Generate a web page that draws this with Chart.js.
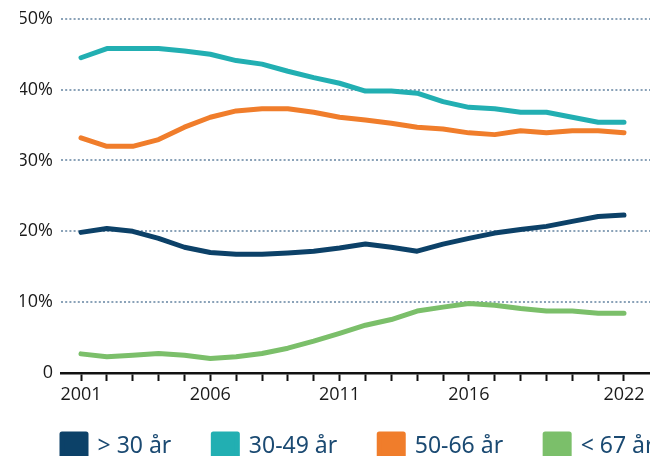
<!DOCTYPE html>
<html>
<head>
<meta charset="utf-8">
<script src="https://cdn.jsdelivr.net/npm/chart.js@4/dist/chart.umd.min.js"></script>
<style>
  html, body { margin: 0; padding: 0; background: #fff; overflow: hidden; }
  #wrap { width: 650px; height: 456px; overflow: hidden; }
</style>
</head>
<body>
<div id="wrap"><canvas id="chart" width="740" height="479"></canvas></div>
<script>
const years = [2001, 2002, 2003, 2004, 2005, 2006, 2007, 2008, 2009, 2010, 2011,
  2012, 2013, 2014, 2015, 2016, 2017, 2018, 2019, 2020, 2021, 2022];
const labeledYears = [2001, 2006, 2011, 2016, 2022];
const seriesNames = ["> 30 år", "30-49 år", "50-66 år", "< 67 år"];
const under30 = [19.85, 20.4, 20.0, 19.0, 17.75, 17.0, 16.75, 16.75, 16.95, 17.2, 17.65,
  18.2, 17.75, 17.2, 18.2, 19.0, 19.75, 20.25, 20.7, 21.4, 22.1, 22.3];
const age30to49 = [44.5, 45.8, 45.8, 45.8, 45.45, 45.0, 44.1, 43.6, 42.6, 41.7, 40.9,
  39.8, 39.8, 39.5, 38.3, 37.5, 37.3, 36.8, 36.8, 36.1, 35.4, 35.4];
const age50to66 = [33.2, 32.0, 32.0, 32.95, 34.7, 36.1, 37.0, 37.3, 37.3, 36.8, 36.1,
  35.7, 35.25, 34.7, 34.45, 33.9, 33.65, 34.2, 33.9, 34.2, 34.2, 33.9];
const over67 = [2.7, 2.3, 2.5, 2.75, 2.5, 2.05, 2.3, 2.75, 3.5, 4.5, 5.6,
  6.75, 7.55, 8.75, 9.3, 9.8, 9.55, 9.1, 8.75, 8.75, 8.45, 8.45];
const yTicks = [0, 10, 20, 30, 40, 50];
const colors = ["#0c4168", "#22afb2", "#f07d2b", "#7bbf6a"];

const seriesValues = [under30, age30to49, age50to66, over67];

const ds = seriesNames.map((name, i) => ({
  label: name,
  data: years.map((y, j) => ({ x: y, y: seriesValues[i][j] })),
  borderColor: colors[i],
  backgroundColor: colors[i],
  borderWidth: 5,
  borderCapStyle: "round",
  borderJoinStyle: "round",
  pointRadius: 0,
  tension: 0,
  fill: false,
}));

// px per year so 2001 sits at x=81 and 2022 at x=624
const pxPerYear = (624 - 81) / 21;
const xMin = 2001 - 20 / pxPerYear;
const xMax = xMin + (740 - 61) / pxPerYear;

const tickFont = { family: "Open Sans", size: 18 };

// pull the legend up a bit so it tucks under the year labels
const legendNudge = {
  id: "legendNudge",
  afterLayout(chart) {
    if (chart.legend) {
      chart.legend.top -= 11;
      chart.legend.bottom -= 11;
    }
  },
};

const ctx = document.getElementById("chart");
new Chart(ctx, {
  type: "line",
  data: { datasets: ds },
  plugins: [legendNudge],
  options: {
    responsive: false,
    animation: false,
    devicePixelRatio: 1,
    layout: { padding: { left: 20, top: 17, right: 0, bottom: 0 } },
    plugins: {
      tooltip: { enabled: false },
      legend: {
        position: "bottom",
        align: "start",
        labels: {
          boxWidth: 24,
          boxHeight: 24,
          padding: 42,
          color: "#1b4a72",
          font: { family: "Noto Sans", size: 23 },
        },
      },
    },
    scales: {
      x: {
        type: "linear",
        min: xMin,
        max: xMax,
        afterBuildTicks: (scale) => {
          scale.ticks = years.map((v) => ({ value: v }));
        },
        afterFit: (scale) => {
          scale.height = 30;
        },
        ticks: {
          autoSkip: false,
          maxRotation: 0,
          padding: 3,
          color: "#1a1a1a",
          font: tickFont,
          callback: (v) => (labeledYears.includes(v) ? String(v) : ""),
        },
        grid: {
          drawOnChartArea: false,
          tickLength: 8,
          tickWidth: 2,
          tickColor: "#111",
        },
        border: { display: true, color: "#111", width: 2.5 },
      },
      y: {
        min: 0,
        max: 50,
        afterBuildTicks: (scale) => {
          scale.ticks = yTicks.map((v) => ({ value: v }));
        },
        afterFit: (scale) => {
          scale.width = 41;
        },
        ticks: {
          padding: 8,
          color: "#1a1a1a",
          font: tickFont,
          callback: (v) => (v === 0 ? "0" : v + "%"),
        },
        grid: {
          drawTicks: false,
          color: (c) => (c.tick && c.tick.value === 0 ? "rgba(0,0,0,0)" : "#8aa2b8"),
          lineWidth: 2,
        },
        border: { display: false, dash: [2, 2.2] },
      },
    },
  },
});
</script>
</body>
</html>
